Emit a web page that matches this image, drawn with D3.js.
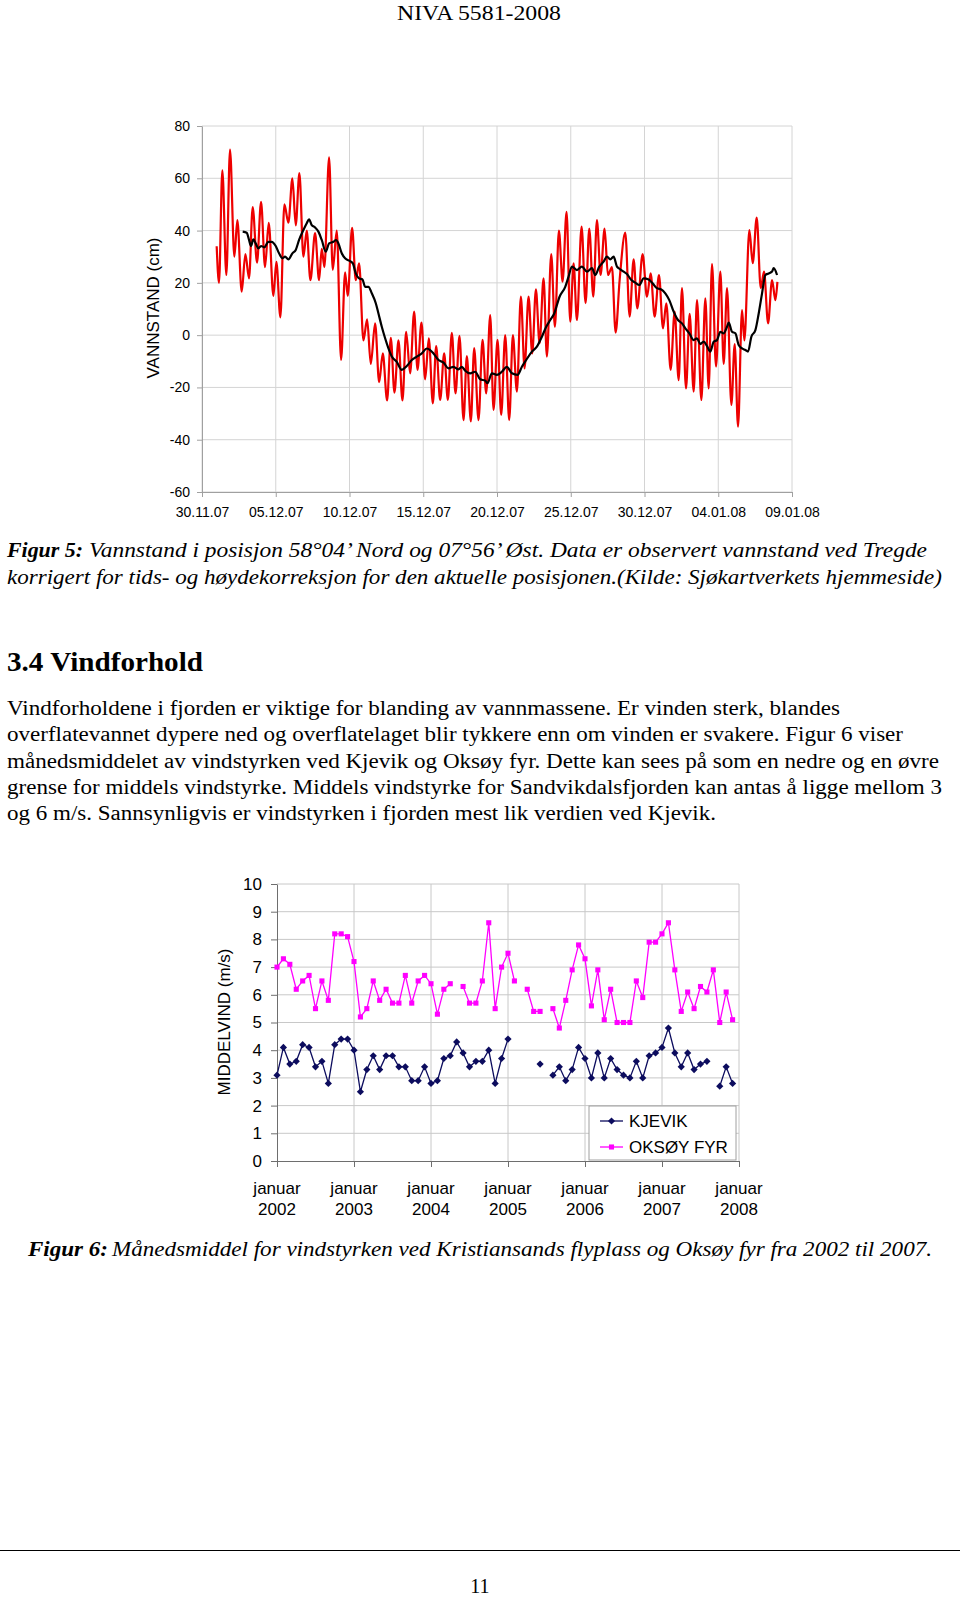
<!DOCTYPE html>
<html><head><meta charset="utf-8">
<script src="https://cdn.jsdelivr.net/npm/d3@7"></script>
<style>html,body{margin:0;padding:0;background:#fff;} svg{display:block;}</style>
</head><body>
<svg id="page" width="960" height="1597"></svg>
<script>
// ---------- Figure 5 data (days after 30.11.07, water level in cm) ----------
const dateLabels = ["30.11.07","05.12.07","10.12.07","15.12.07","20.12.07","25.12.07","30.12.07","04.01.08","09.01.08"];
const levelTicks = [-60,-40,-20,0,20,40,60,80];
const tideDays = [0.995,1.153,1.379,1.651,1.899,2.194,2.397,2.691,2.940,3.189,3.437,3.731,4.003,4.274,4.523,4.839,5.043,5.314,5.586,5.857,6.128,6.354,6.603,6.875,7.101,7.349,7.666,7.937,8.118,8.299,8.616,8.865,9.136,9.430,9.701,9.882,10.176,10.425,10.651,10.945,11.194,11.443,11.737,12.008,12.257,12.551,12.800,13.048,13.320,13.591,13.840,14.111,14.383,14.609,14.880,15.129,15.378,15.649,15.875,16.147,16.418,16.667,16.938,17.187,17.458,17.730,17.956,18.227,18.453,18.747,19.019,19.267,19.539,19.765,20.036,20.285,20.556,20.828,21.076,21.348,21.619,21.868,22.139,22.388,22.637,22.886,23.157,23.383,23.677,23.926,24.197,24.446,24.717,24.966,25.192,25.419,25.735,26.006,26.255,26.526,26.775,27.024,27.295,27.521,27.793,28.042,28.313,28.698,28.992,29.263,29.512,29.873,30.167,30.416,30.688,30.982,31.253,31.479,31.773,32.044,32.316,32.542,32.813,33.062,33.333,33.560,33.854,34.125,34.351,34.577,34.849,35.143,35.369,35.595,35.889,36.115,36.341,36.613,36.771,37.110,37.336,37.608,37.879,38.105,38.377,38.648,38.874,39.010];
const tideLevels = [34,20,63,23,71,30,44,16.6,31,21.7,49,27.7,51,26,43,15,28,6.8,50,43,60,42,62,30,40,21,39,21,33,26,68,25,40,-9.5,24,15,41,21,27.5,-2,6,-11,4.5,-18,-7,-25,-1,-22,-2,-25,1.3,-14.6,9,-13.3,4.8,-16.9,-1.2,-26.1,-4.2,-24.8,-7,-24.8,0.9,-22.3,-0.3,-32.5,-8,-33,-5,-32.5,-1.8,-22.3,7.7,-28.6,-1.8,-30.5,0,-32.5,0,-21.6,14.7,-12.7,14.7,-7,17.5,-3.1,21.7,-8.2,31,3.2,40,20.5,47.2,5.2,27.5,5.8,41.5,12.2,40.8,14.7,44,23,40.8,23,26,1,21,39.2,7.1,29,10.2,31,14.7,23.6,7.1,23,2.6,12.2,-13.3,9,-17.2,18,-20.4,8.1,-21.6,13.4,-24.8,14.1,-20.4,27.2,-12,24.3,-11,18,-26.7,-3.4,-35,9.6,-2,40.2,27.5,45,18,24.3,4.5,21.1,13.4,20.4];
const smoothDays = [2.759,3.030,3.189,3.324,3.483,3.641,3.822,4.003,4.229,4.500,4.726,4.998,5.224,5.450,5.631,5.857,6.128,6.354,6.581,6.875,7.101,7.259,7.440,7.666,7.892,8.118,8.390,8.616,8.910,9.091,9.249,9.475,9.701,9.973,10.222,10.425,10.651,10.877,11.058,11.284,11.511,11.782,11.963,12.189,12.415,12.641,12.867,13.206,13.546,13.885,14.224,14.564,14.903,15.242,15.468,15.694,16.034,16.373,16.712,17.051,17.390,17.617,17.843,18.182,18.521,18.860,19.200,19.358,19.652,19.991,20.330,20.669,21.009,21.393,21.687,21.981,22.365,22.705,23.044,23.338,23.609,23.881,24.242,24.627,24.853,25.079,25.418,25.758,26.097,26.436,26.662,26.933,27.227,27.453,27.680,27.906,28.132,28.358,28.584,28.810,29.104,29.376,29.647,29.941,30.280,30.552,30.846,31.140,31.411,31.682,31.976,32.270,32.542,32.768,33.039,33.333,33.559,33.785,34.012,34.238,34.464,34.690,34.916,35.142,35.368,35.595,35.708,35.934,36.160,36.386,36.612,36.838,37.019,37.245,37.517,37.743,37.969,38.195,38.421,38.648,38.761,38.987];
const smoothLevels = [39.6,39.2,36.4,34.1,36.6,35.1,33.2,34.1,33.6,35.7,35.7,34.1,31.3,29.4,30,29,31.3,32.6,36.4,40.2,42.8,44.3,42.1,41.2,39.6,36.4,31.9,35.1,35.7,36.4,35.1,31.3,29.4,28.5,27.5,23.6,21.7,21.3,18.5,18.5,16,12.2,8.3,3.2,-1.2,-5.1,-8.2,-10.2,-13.3,-11.8,-9.5,-8.2,-7,-5.1,-5.7,-7,-9.5,-10.5,-12.7,-12.1,-13.1,-12.1,-13.6,-14.6,-14,-16.9,-17.4,-18.4,-14.6,-15.2,-14,-12.1,-14.6,-15.2,-12.1,-9.5,-6.3,-4.4,-0.6,3.2,5.8,8.3,14.7,18.5,22.4,26.2,24.9,26.2,24.3,25.6,23,26.2,28.1,30,29,30,26.2,25.2,24.3,23.4,21.1,20.1,19.2,21.7,21.3,19.8,17.9,17.5,16,13.4,9,5.8,4.5,2.6,0.7,-1.9,-1.2,-3.4,-2.5,-4.2,-6.3,-2.5,-1.9,1.3,0.7,3.2,4.8,1.3,0.7,-3.8,-5.1,-5.7,-6.3,-0.6,1.9,8.3,16,23,23.6,24.3,25.6,23];

// ---------- Figure 6 data (monthly mean wind, Jan 2002 - Dec 2007) ----------
const yearLabels = ["2002","2003","2004","2005","2006","2007","2008"];
const monthWord = "januar";
const windTicks = [0,1,2,3,4,5,6,7,8,9,10];
const kjevik = [3.1,4.1,3.5,3.6,4.2,4.1,3.4,3.6,2.8,4.2,4.4,4.4,
  4.0,2.5,3.3,3.8,3.3,3.8,3.8,3.4,3.4,2.9,2.9,3.4,
  2.8,2.9,3.7,3.8,4.3,3.9,3.4,3.6,3.6,4.0,2.8,3.7,
  4.4,null,null,null,null,3.5,null,3.1,3.4,2.9,3.3,4.1,
  3.7,3.0,3.9,3.0,3.7,3.3,3.1,3.0,3.6,3.0,3.8,3.9,
  4.1,4.8,3.9,3.4,3.9,3.3,3.5,3.6,null,2.7,3.4,2.8];
const oksoy = [7.0,7.3,7.1,6.2,6.5,6.7,5.5,6.5,5.8,8.2,8.2,8.1,
  7.2,5.2,5.5,6.5,5.8,6.2,5.7,5.7,6.7,5.7,6.5,6.7,
  6.4,5.3,6.2,6.4,null,6.3,5.7,5.7,6.5,8.6,5.5,7.0,
  7.5,6.5,null,6.2,5.4,5.4,null,5.5,4.8,5.8,6.9,7.8,
  7.3,5.6,6.9,5.1,6.2,5.0,5.0,5.0,6.5,5.9,7.9,7.9,
  8.2,8.6,6.9,5.4,6.1,5.5,6.3,6.1,6.9,5.0,6.1,5.1];
const seriesNames = ["KJEVIK","OKSØY FYR"];

const svg = d3.select("#page");
svg.append("rect").attr("width",960).attr("height",1597).attr("fill","#fff");
const serif = "'Liberation Serif','Times New Roman',serif";
const sans = "'Liberation Sans',Arial,sans-serif";

// ---------- page text ----------
function txt(x,y,s,opt){
  const t = svg.append("text").attr("x",x).attr("y",y).text(s)
    .attr("font-family",opt.family||serif).attr("font-size",opt.size||20)
    .attr("fill","#000");
  if(opt.weight) t.attr("font-weight",opt.weight);
  if(opt.style) t.attr("font-style",opt.style);
  if(opt.anchor) t.attr("text-anchor",opt.anchor);
  if(opt.len) t.attr("textLength",opt.len).attr("lengthAdjust","spacingAndGlyphs");
  return t;
}
txt(479,20,"NIVA 5581-2008",{size:21,anchor:"middle",len:164});

txt(7,557,"Figur 5:",{size:21,weight:"bold",style:"italic",len:76});
txt(89,557,"Vannstand i posisjon 58°04’ Nord og 07°56’ Øst. Data er observert vannstand ved Tregde",{size:21,style:"italic",len:838});
txt(7,583.5,"korrigert for tids- og høydekorreksjon for den aktuelle posisjonen.(Kilde: Sjøkartverkets hjemmeside)",{size:21,style:"italic",len:935});

txt(7,671,"3.4 Vindforhold",{size:28,weight:"bold",len:196});
const para = [
 ["Vindforholdene i fjorden er viktige for blanding av vannmassene. Er vinden sterk, blandes",833],
 ["overflatevannet dypere ned og overflatelaget blir tykkere enn om vinden er svakere. Figur 6 viser",896],
 ["månedsmiddelet av vindstyrken ved Kjevik og Oksøy fyr. Dette kan sees på som en nedre og en øvre",932],
 ["grense for middels vindstyrke. Middels vindstyrke for Sandvikdalsfjorden kan antas å ligge mellom 3",935],
 ["og 6 m/s. Sannsynligvis er vindstyrken i fjorden mest lik verdien ved Kjevik.",709]];
para.forEach((p,i)=>txt(7,715+i*26.3,p[0],{size:20.5,len:p[1]}));

txt(28,1256,"Figur 6:",{size:21,weight:"bold",style:"italic",len:80});
txt(112,1256,"Månedsmiddel for vindstyrken ved Kristiansands flyplass og Oksøy fyr fra 2002 til 2007.",{size:21,style:"italic",len:820});

svg.append("line").attr("x1",0).attr("x2",960).attr("y1",1550.5).attr("y2",1550.5).attr("stroke","#000").attr("stroke-width",1);
txt(480,1593,"11",{size:20,anchor:"middle"});

// ---------- Figure 5 chart ----------
const c1 = {l:202,r:792,t:126,b:492};
const x1 = d3.scaleLinear().domain([0,40]).range([c1.l,c1.r]);
const y1 = d3.scaleLinear().domain([-60,80]).range([c1.b,c1.t]);
const dayTicks = dateLabels.map((d,i)=>i*5);
const g1 = svg.append("g");
g1.selectAll(".hg").data(levelTicks).join("line")
  .attr("x1",c1.l).attr("x2",c1.r).attr("y1",d=>y1(d)).attr("y2",d=>y1(d))
  .attr("stroke","#d4d4d4").attr("stroke-width",1);
g1.selectAll(".vg").data(dayTicks).join("line")
  .attr("x1",d=>x1(d)).attr("x2",d=>x1(d)).attr("y1",c1.t).attr("y2",c1.b)
  .attr("stroke","#d4d4d4").attr("stroke-width",1);

const ax1 = g1.append("g").attr("transform",`translate(${c1.l},0)`)
  .call(d3.axisLeft(y1).tickValues(levelTicks).tickFormat(d=>String(d)).tickSize(5).tickSizeOuter(0).tickPadding(7));
const bx1 = g1.append("g").attr("transform",`translate(0,${c1.b})`)
  .call(d3.axisBottom(x1).tickValues(dayTicks).tickFormat((d,i)=>dateLabels[i]).tickSize(5).tickSizeOuter(0).tickPadding(10));
[ax1,bx1].forEach(a=>{
  a.select(".domain").attr("stroke","#a0a0a0");
  a.selectAll(".tick line").attr("stroke","#a0a0a0");
  a.selectAll("text").attr("font-family",sans).attr("font-size",14).attr("fill","#000");
});
g1.append("text").attr("transform","translate(159,308) rotate(-90)")
  .attr("text-anchor","middle").attr("font-family",sans).attr("font-size",17)
  .text("VANNSTAND (cm)");

const tide = tideDays.map((d,i)=>[d,tideLevels[i]]);
const smooth = smoothDays.map((d,i)=>[d,smoothLevels[i]]);
const line1 = d3.line().x(d=>x1(d[0])).y(d=>y1(d[1])).curve(d3.curveMonotoneX);
g1.append("path").attr("d",line1(tide)).attr("fill","none").attr("stroke","#ee0000").attr("stroke-width",2.2).attr("stroke-linejoin","round");
g1.append("path").attr("d",line1(smooth)).attr("fill","none").attr("stroke","#000").attr("stroke-width",2.2).attr("stroke-linejoin","round");

// ---------- Figure 6 chart ----------
const c2 = {l:277,r:739,t:884,b:1161};
const x2 = d3.scaleLinear().domain([0,72]).range([c2.l,c2.r]);
const y2 = d3.scaleLinear().domain([0,10]).range([c2.b,c2.t]);
const yearTicks = yearLabels.map((d,i)=>i*12);
const g2 = svg.append("g");
g2.selectAll(".hg").data(windTicks.slice(1)).join("line")
  .attr("x1",c2.l).attr("x2",c2.r).attr("y1",d=>y2(d)).attr("y2",d=>y2(d))
  .attr("stroke","#c8c8c8").attr("stroke-width",1);
g2.selectAll(".vg").data(yearTicks.slice(1)).join("line")
  .attr("x1",d=>x2(d)).attr("x2",d=>x2(d)).attr("y1",c2.t).attr("y2",c2.b)
  .attr("stroke","#c8c8c8").attr("stroke-width",1);
const ax2 = g2.append("g").attr("transform",`translate(${c2.l},0)`)
  .call(d3.axisLeft(y2).tickValues(windTicks).tickFormat(d=>String(d)).tickSize(6).tickSizeOuter(0).tickPadding(9));
const bx2 = g2.append("g").attr("transform",`translate(0,${c2.b})`)
  .call(d3.axisBottom(x2).tickValues(yearTicks).tickFormat("").tickSize(6).tickSizeOuter(0));
[ax2,bx2].forEach(a=>{
  a.select(".domain").attr("stroke","#6e6e6e");
  a.selectAll(".tick line").attr("stroke","#6e6e6e");
  a.selectAll("text").attr("font-family",sans).attr("font-size",17).attr("fill","#000");
});
const xl = g2.selectAll(".xl").data(yearTicks).join("text")
  .attr("text-anchor","middle").attr("font-family",sans).attr("font-size",17);
xl.append("tspan").attr("x",d=>x2(d)).attr("y",1194).text(monthWord);
xl.append("tspan").attr("x",d=>x2(d)).attr("y",1215).text((d,i)=>yearLabels[i]);
g2.append("text").attr("transform","translate(230,1022) rotate(-90)")
  .attr("text-anchor","middle").attr("font-family",sans).attr("font-size",17)
  .text("MIDDELVIND (m/s)");

const navy = "#0c0c5e", mag = "#ff00ff";
const line2 = d3.line().defined(d=>d[1]!=null).x(d=>x2(d[0])).y(d=>y2(d[1]));
const kj = kjevik.map((v,i)=>[i,v]);
const ok = oksoy.map((v,i)=>[i,v]);
g2.append("path").attr("d",line2(ok)).attr("fill","none").attr("stroke",mag).attr("stroke-width",1.3);
g2.append("path").attr("d",line2(kj)).attr("fill","none").attr("stroke",navy).attr("stroke-width",1.3);
const sq = d3.symbol(d3.symbolSquare,26);
g2.selectAll(".ok").data(ok.filter(d=>d[1]!=null)).join("path")
  .attr("d",sq).attr("transform",d=>`translate(${x2(d[0])},${y2(d[1])})`).attr("fill",mag);
g2.selectAll(".kj").data(kj.filter(d=>d[1]!=null)).join("path")
  .attr("d",sq).attr("transform",d=>`translate(${x2(d[0])},${y2(d[1])}) rotate(45)`).attr("fill",navy);

// legend
const lg = g2.append("g");
lg.append("rect").attr("x",589).attr("y",1106).attr("width",147).attr("height",54)
  .attr("fill","#fff").attr("stroke","#a0a0a0");
[[navy,1121,true],[mag,1147,false]].forEach((e,i)=>{
  lg.append("line").attr("x1",600).attr("x2",623).attr("y1",e[1]).attr("y2",e[1]).attr("stroke",e[0]).attr("stroke-width",1.3);
  lg.append("path").attr("d",sq).attr("transform",`translate(611.5,${e[1]})${e[2]?" rotate(45)":""}`).attr("fill",e[0]);
  lg.append("text").attr("x",629).attr("y",e[1]+6).attr("font-family",sans).attr("font-size",17).text(seriesNames[i]);
});
</script>
</body></html>
